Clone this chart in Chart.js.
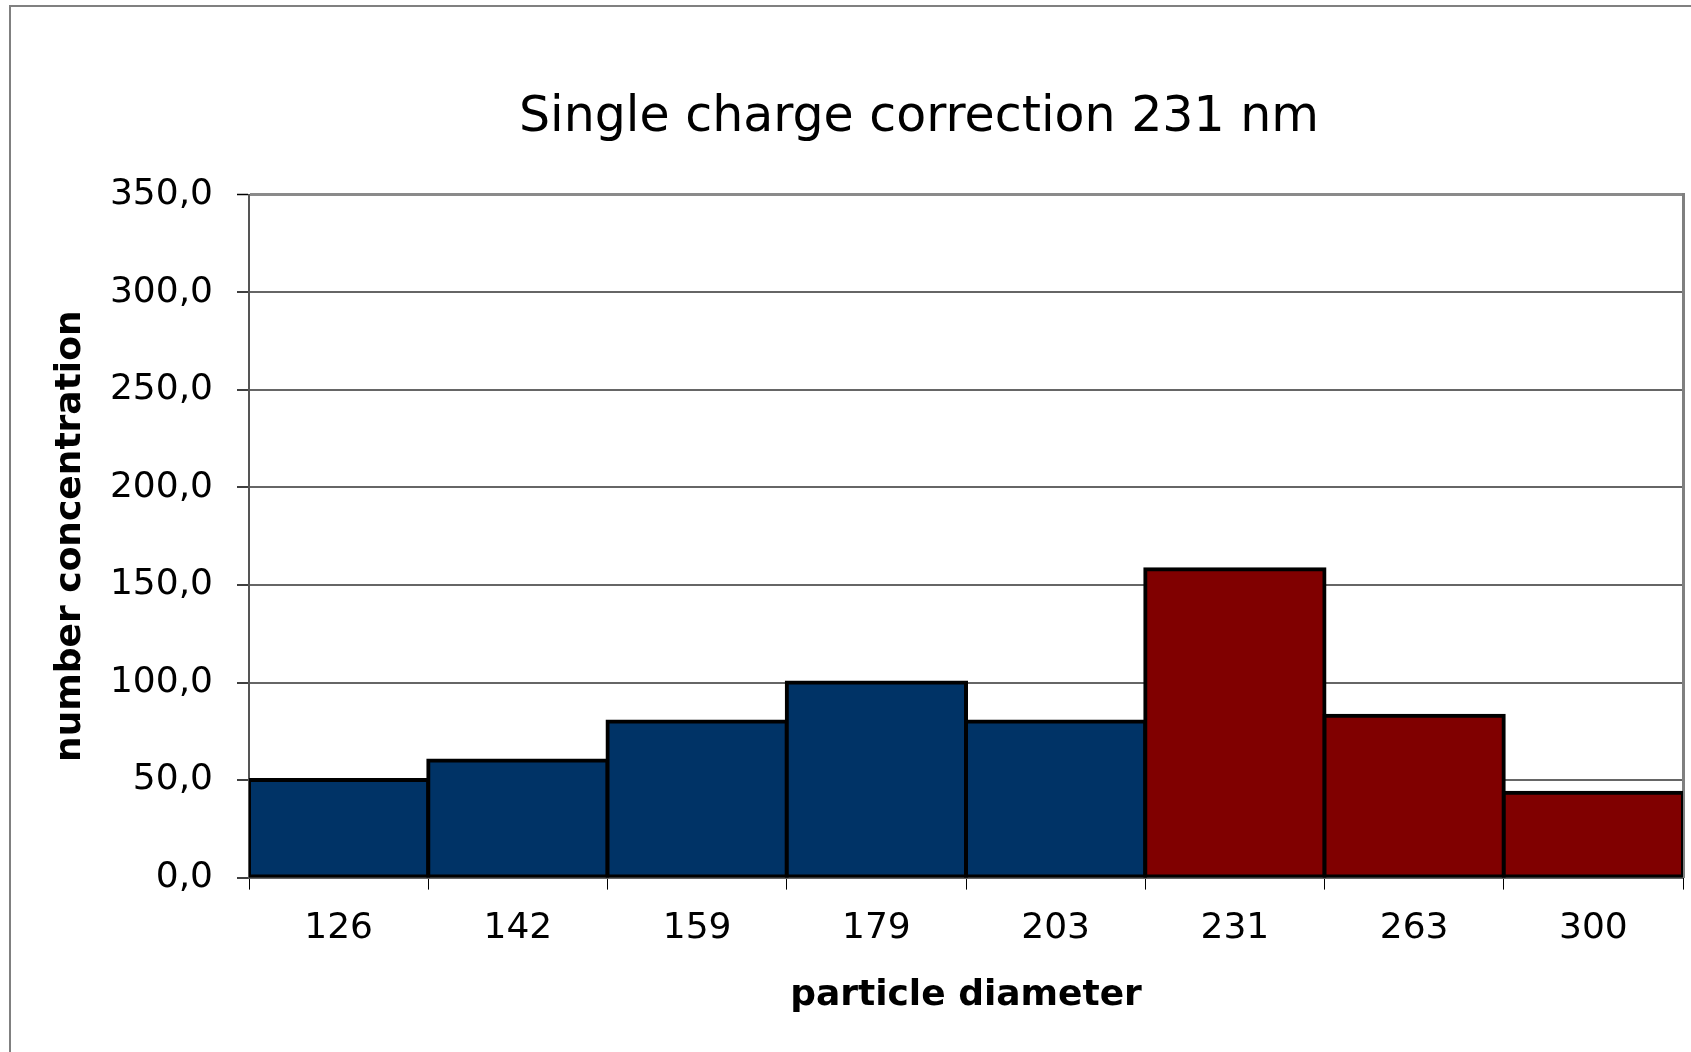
<!DOCTYPE html>
<html>
<head>
<meta charset="utf-8">
<title>Single charge correction 231 nm</title>
<script src="https://cdn.jsdelivr.net/npm/chart.js@4.4.1/dist/chart.umd.min.js"></script>
<style>
  html, body { margin: 0; padding: 0; background: #fff; overflow: hidden; width: 1691px; height: 1052px; }
  /* outer chart frame, cropped on the right and bottom like the original */
  .frame { position: absolute; left: 9px; top: 5px; width: 3000px; height: 3000px;
           border-left: 2px solid #808080; border-top: 2px solid #808080; }
  .wrap { position: absolute; left: 0; top: 0; width: 1838px; height: 1052px; }
</style>
</head>
<body>
<div class="frame"></div>
<div class="wrap"><canvas id="chargeChart" width="1838" height="1052"></canvas></div>
<script>
// --- data ---
const diameters = ['126', '142', '159', '179', '203', '231', '263', '300'];
const concentrations = [50, 60, 80, 100, 80, 158, 83, 43.5];
const yTickLabels = ['0,0', '50,0', '100,0', '150,0', '200,0', '250,0', '300,0', '350,0'];
const barColors = ['#003366', '#003366', '#003366', '#003366', '#003366', '#800000', '#800000', '#800000'];

const FONT = '"DejaVu Sans", Verdana, sans-serif';
Chart.defaults.font.family = FONT;
Chart.defaults.color = '#000';

new Chart(document.getElementById('chargeChart'), {
    type: 'bar',
    data: {
        labels: diameters,
        datasets: [{
            data: concentrations,
            backgroundColor: barColors,
            borderColor: '#000',
            borderWidth: 4,
            borderSkipped: false,
            inflateAmount: 2,         // centre the border on the bar edge so neighbours share it
            barPercentage: 1,
            categoryPercentage: 1,
            yAxisID: 'y'
        }]
    },
    options: {
        responsive: false,
        devicePixelRatio: 1,
        animation: false,
        layout: { padding: 0 },
        plugins: {
            legend: { display: false },
            tooltip: { enabled: false },
            title: {
                display: true,
                text: 'Single charge correction 231 nm',
                color: '#000',
                font: { size: 49, weight: 'normal' },
                padding: { top: 89, bottom: 47 }
            }
        },
        scales: {
            x: {
                offset: true,
                grid: { offset: true, drawOnChartArea: false, tickLength: 12, tickColor: '#000', tickWidth: 1 },
                border: { display: false },
                ticks: { color: '#000', font: { size: 36 }, padding: 17, maxRotation: 0 },
                title: {
                    display: true,
                    text: 'particle diameter',
                    color: '#000',
                    font: { size: 36, weight: 'bold' },
                    padding: { top: 7, bottom: 35 }
                }
            },
            y: {
                min: 0,
                max: 350,
                ticks: {
                    stepSize: 50,
                    color: '#000',
                    font: { size: 36 },
                    padding: 24,
                    callback: (value, index) => yTickLabels[index]
                },
                grid: {
                    color: ctx => (ctx.tick && ctx.tick.value === 350) ? '#8a8a8a' : '#666',
                    lineWidth: ctx => (ctx.tick && ctx.tick.value === 350) ? 3 : 2,
                    tickLength: 12,
                    tickColor: '#000',
                    tickWidth: 1.5
                },
                border: { color: '#555', width: 2 },
                title: {
                    display: true,
                    text: 'number concentration',
                    color: '#000',
                    font: { size: 36, weight: 'bold' },
                    padding: { top: 49, bottom: 0 }
                },
                afterFit: scale => { scale.width = 249; }
            },
            // right-hand plot border; the rest of the original chart was cropped away
            y2: {
                position: 'right',
                min: 0,
                max: 350,
                grid: { drawOnChartArea: false, drawTicks: false },
                ticks: { display: false },
                border: { color: '#808080', width: 3 },
                afterFit: scale => { scale.width = 155; }
            }
        }
    }
});
</script>
</body>
</html>
